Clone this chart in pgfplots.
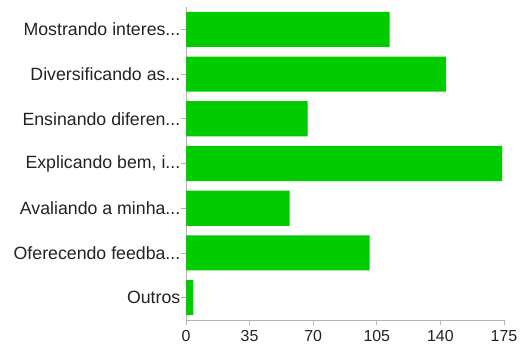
\documentclass[border=0pt]{standalone}
\usepackage{fontspec}
\setmainfont{Liberation Sans}
\usepackage{pgfplots}
\pgfplotsset{compat=1.18}
\definecolor{barg}{HTML}{00CC00}
\definecolor{axg}{HTML}{B4B4B4}
\definecolor{txt}{HTML}{222222}
\newcommand{\dd}{...}
\begin{document}
\begin{tikzpicture}
\path[use as bounding box] (0,0) rectangle (521bp,345bp);
\begin{axis}[
  at={(186bp,25bp)}, anchor=south west,
  scale only axis, width=318bp, height=313bp,
  xmin=0, xmax=175, ymin=-0.5, ymax=6.5,
  y dir=reverse,
  axis x line=bottom, axis y line=left,
  axis line style={axg, -, line width=0.8pt},
  xtick={0,35,70,105,140,175},
  ytick={0,1,2,3,4,5,6},
  yticklabels={{Mostrando interes\dd},{Diversificando as\dd},{Ensinando diferen\dd},{Explicando bem, i\dd},{Avaliando a minha\dd},{Oferecendo feedba\dd},{Outros}},
  tick align=outside,
  major tick length=4.5bp,
  tick style={axg, line width=0.8pt},
  ticklabel style={text=txt},
  yticklabel style={inner sep=1bp, font=\fontsize{17.8}{19}\selectfont},
  xticklabel style={inner sep=1bp, yshift=-5bp, font=\fontsize{16}{18}\selectfont},
  /pgf/number format/assume math mode=true,
  xbar, bar width=0.785,
  clip=false,
]
\addplot[fill=barg, draw=none] coordinates {
(112,0) (143,1) (67,2) (174,3) (57,4) (101,5) (4,6)
};
\end{axis}
\end{tikzpicture}
\end{document}
